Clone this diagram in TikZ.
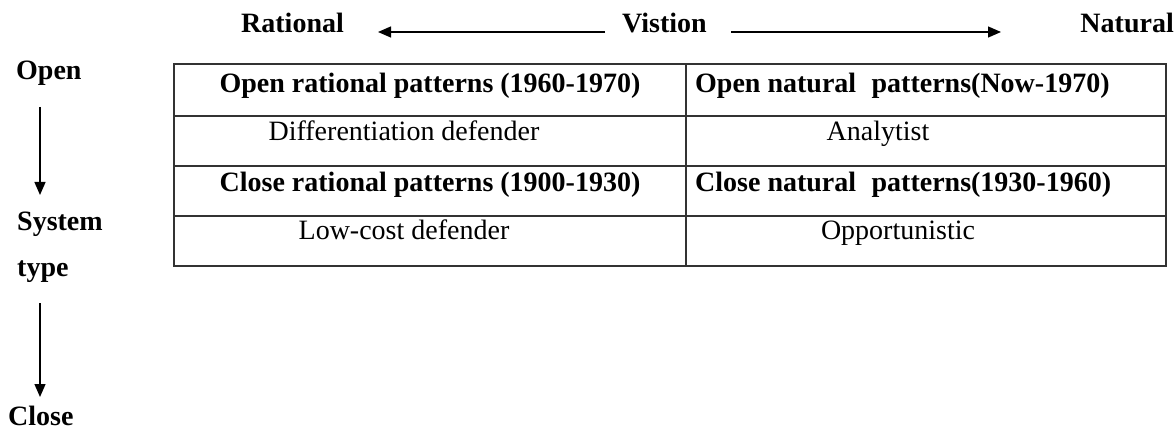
\documentclass[tikz,border=0pt]{standalone}
\usepackage{fontspec}
\setmainfont{Liberation Serif}
\usetikzlibrary{arrows.meta}
\begin{document}
\begin{tikzpicture}[x=1pt,y=-1pt,
  lab/.style={font=\fontsize{28}{32}\selectfont\bfseries, inner sep=0pt, anchor=base west},
  hd/.style={font=\fontsize{28}{32}\selectfont\bfseries, inner sep=0pt, anchor=base},
  cell/.style={font=\fontsize{28}{32}\selectfont, inner sep=0pt, anchor=base},
  gridline/.style={line width=1.4pt, draw=black!80},
  arr/.style={line width=1.3pt, -{Triangle[length=13pt,width=11pt]}}]
\useasboundingbox (0,0) rectangle (1174,430);
% top axis
\node[lab] (rat) at (241,33) {Rational};
\node[lab] (vis) at (622,33) {Vistion};
\node[lab, anchor=base east] (nat) at (1174,33) {Natural};
\coordinate (la) at (605,32);
\coordinate (lb) at (378,32);
\coordinate (ra) at (731,32);
\coordinate (rb) at (1001,32);
\draw[arr] (la) -- (lb);
\draw[arr] (ra) -- (rb);
% left axis
\node[lab] (open) at (16,80) {Open};
\node[lab] (sys) at (17,231) {System};
\node[lab] (typ) at (17,276) {type};
\node[lab] (close) at (8,425) {Close};
\coordinate (va) at (40,107);
\coordinate (vb) at (40,195);
\coordinate (vc) at (40,303);
\coordinate (vd) at (40,397);
\draw[arr] (va) -- (vb);
\draw[arr] (vc) -- (vd);
% table
\coordinate (tl) at (174,64);
\coordinate (br) at (1166,266);
\draw[gridline] (tl) rectangle (br);
\draw[gridline] (174,116) -- (1166,116);
\draw[gridline] (174,166) -- (1166,166);
\draw[gridline] (174,216) -- (1166,216);
\draw[gridline] (686,64) -- (686,266);
% cells
\node[hd] (c11) at (430,93) {Open rational patterns (1960-1970)};
\node[lab] (c12) at (695,93) {Open natural\hspace{0.3em} patterns(Now-1970)};
\node[cell] (c21) at (404,141) {Differentiation defender};
\node[cell] (c22) at (878,141) {Analytist};
\node[hd] (c31) at (430,192) {Close rational patterns (1900-1930)};
\node[lab] (c32) at (695,192) {Close natural\hspace{0.3em} patterns(1930-1960)};
\node[cell] (c41) at (404,240) {Low-cost defender};
\node[cell] (c42) at (898,240) {Opportunistic};
\end{tikzpicture}
\end{document}
